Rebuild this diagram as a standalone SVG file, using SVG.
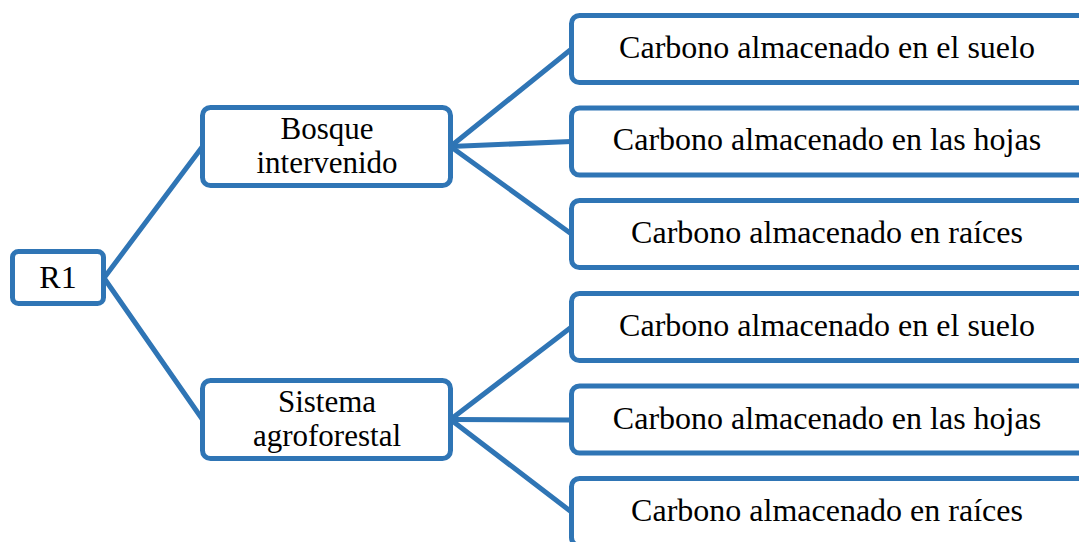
<svg xmlns="http://www.w3.org/2000/svg" width="1079" height="542" viewBox="0 0 1079 542">
<style>
.box{fill:#fff;stroke:#2F75B5;stroke-width:5}
.con line{stroke:#2F75B5;stroke-width:5;stroke-linecap:round}
text{font-family:"Liberation Serif","Times New Roman",serif;font-size:32px;fill:#000;text-anchor:middle}
text.two{font-size:31px}
</style>
<rect width="1079" height="542" fill="#fff"/>
<g id="connectors" class="con">
<line x1="104" y1="278" x2="202.5" y2="146.5"/>
<line x1="104" y1="278" x2="202.5" y2="419.5"/>
<line x1="450.5" y1="146.5" x2="571.5" y2="49"/>
<line x1="450.5" y1="146.5" x2="571.5" y2="141.5"/>
<line x1="450.5" y1="146.5" x2="571.5" y2="234"/>
<line x1="450.5" y1="419.5" x2="571.5" y2="327"/>
<line x1="450.5" y1="419.5" x2="571.5" y2="420"/>
<line x1="450.5" y1="419.5" x2="571.5" y2="512"/>
</g>
<g id="r1"><rect class="box" x="12.5" y="251.5" width="91" height="52" rx="6"/><text x="58" y="288">R1</text></g>
<g id="bosque"><rect class="box" x="202.5" y="107.5" width="248" height="78" rx="8"/><text class="two" x="327" y="138.5">Bosque</text><text class="two" x="327" y="173">intervenido</text></g>
<g id="sistema"><rect class="box" x="202.5" y="380.5" width="248" height="78" rx="8"/><text class="two" x="327" y="411.5">Sistema</text><text class="two" x="327" y="446">agroforestal</text></g>
<g id="b1"><rect class="box" x="571.5" y="15.5" width="520" height="67" rx="8"/><text x="827" y="57.5">Carbono almacenado en el suelo</text></g>
<g id="b2"><rect class="box" x="571.5" y="108" width="520" height="67" rx="8"/><text x="827" y="150">Carbono almacenado en las hojas</text></g>
<g id="b3"><rect class="box" x="571.5" y="200.5" width="520" height="67" rx="8"/><text x="827" y="242.5">Carbono almacenado en raíces</text></g>
<g id="s1"><rect class="box" x="571.5" y="293.5" width="520" height="67" rx="8"/><text x="827" y="336">Carbono almacenado en el suelo</text></g>
<g id="s2"><rect class="box" x="571.5" y="386" width="520" height="67" rx="8"/><text x="827" y="428.5">Carbono almacenado en las hojas</text></g>
<g id="s3"><rect class="box" x="571.5" y="478.5" width="520" height="67" rx="8"/><text x="827" y="521">Carbono almacenado en raíces</text></g>
</svg>
